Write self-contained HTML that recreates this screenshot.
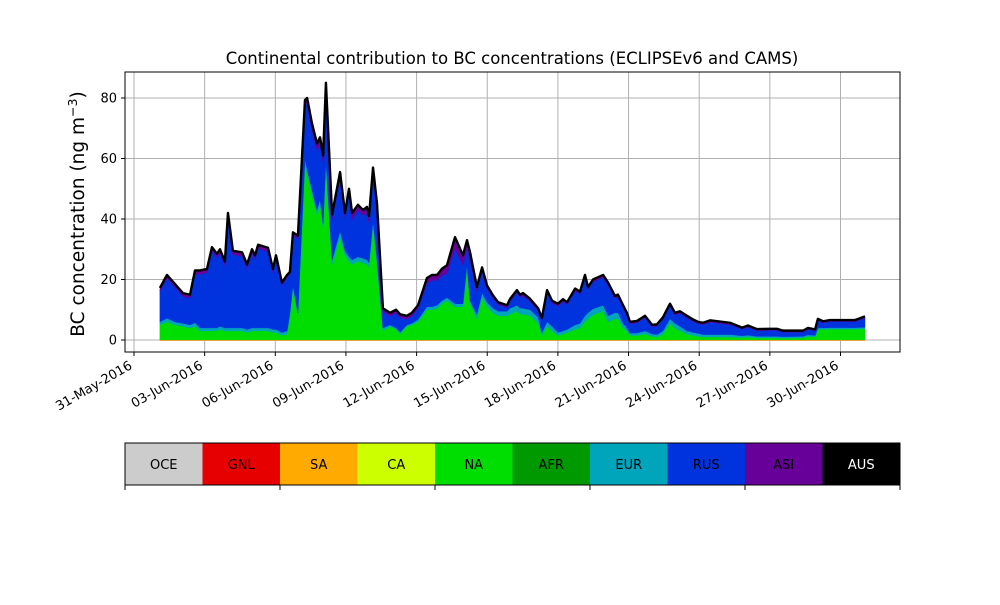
<!DOCTYPE html>
<html><head><meta charset="utf-8"><style>
body{margin:0;background:#fff;}
svg text{font-family:"DejaVu Sans","Liberation Sans",sans-serif;}
</style></head><body>
<svg id="chart" width="1000" height="600" viewBox="0 0 1000 600" xmlns="http://www.w3.org/2000/svg"></svg>
<script>
const days=[1.10,1.40,1.74,2.08,2.38,2.59,2.80,3.10,3.31,3.52,
3.65,3.86,3.99,4.20,4.59,4.80,5.01,5.14,5.27,5.69,
5.90,6.03,6.28,6.50,6.62,6.75,6.96,7.26,7.35,7.56,
7.77,7.90,8.03,8.15,8.41,8.75,8.96,9.13,9.26,9.51,
9.72,9.89,9.98,10.15,10.32,10.57,10.87,11.13,11.30,11.59,
11.80,12.06,12.44,12.65,12.87,13.08,13.29,13.63,13.97,14.14,
14.27,14.56,14.78,14.99,15.24,15.46,15.84,15.97,16.26,16.39,
16.52,16.82,17.16,17.32,17.54,17.75,18.00,18.22,18.39,18.73,
18.94,19.15,19.28,19.49,19.92,20.13,20.42,20.55,20.76,20.93,
21.06,21.36,21.70,22.00,22.21,22.46,22.76,22.97,23.18,23.48,
23.74,23.95,24.16,24.46,24.76,25.31,25.82,26.07,26.45,27.01,
27.30,27.56,28.41,28.62,28.92,29.04,29.26,29.55,30.11,30.62,31.04];
const total=[17.2,21.5,18.5,15.5,15,23,23,23.5,30.7,28.5,
30,26,42,29.5,29,25,30,28,31.5,30.5,
23.5,28,19,21.5,22.5,35.6,34.5,79.3,80,71.5,
65,67,61,85,41.5,55.5,42,50,42,44.7,
43,44,41,57,45,10.5,9,10,8.5,8,
9,11.5,20.5,21.5,21.5,23.6,24.7,34,28,33,
29,17.5,24,18,14.8,12.5,11.5,13.6,16.5,15,
15.5,13.6,10.5,7.3,16.5,13,12,13.5,12.5,17,
16,21.5,17.5,20,21.5,19,14.6,15,11.6,9,
6,6.3,8,5,5.2,7.5,12,9,9.5,8,
6.8,6,5.7,6.5,6.2,5.7,4.1,4.8,3.6,3.7,
3.7,3.1,3.1,4,3.5,7,6.2,6.6,6.6,6.6,7.8];
const na=[5,6,5,4.5,4,4.5,3,3,3,3,
3.5,3,3,3,3,2.5,3,3,3,3,
2.5,2.5,1.5,2,8,17,8,58.5,55,48,
41.5,45,37,58,25,34,28,26,25,26,
25.5,25,24,38,25,3,4.5,3.5,2,4.5,
5,6,10,10,10.5,12,13,11,11,24,
12,7,14,11,9,8,8,8.5,9.5,8.5,
8.5,8,5.5,1.5,4.5,3,1.5,2,2.5,3.5,
4,6,7,8.3,9.5,6,7,7,4,3,
1.5,1.5,2,1.2,1,2,5.5,4,3,2,
1.5,1.2,1,1,1,1,0.8,1,0.7,0.7,
0.7,0.6,0.7,1.2,1,3.5,3.5,3.6,3.6,3.6,3.7];
const eur=[1,1.2,1,1,1,1.2,1,1,1,1,
1,1,1,1,1,1,1,1,1,1,
1,1,1,1,1,1,1,1.5,1.5,1.5,
1.5,1.5,1.5,1.5,1.5,2,1.5,1.5,1.5,1.5,
1.5,1.5,1.5,1.5,1.5,1,0.5,0.5,0.5,0.5,
0.5,0.8,1,1,1,1,1,1,1,1,
1,1.5,1.5,1.5,1.5,1.5,1.5,2,2,2,
2,2,2,1,1.5,1.5,1,1,1,1.5,
1.5,2,2,2,2,2,2,2,1.5,1,
0.8,0.8,1,0.8,0.8,1,1.5,1.5,1.5,1,
1,1,0.8,0.8,0.8,0.8,0.6,0.6,0.5,0.5,
0.5,0.5,0.5,0.5,0.5,0.5,0.5,0.5,0.5,0.5,0.5];
const asi=[0.8,0.8,0.8,0.8,0.8,1,1,1,1,1,
1,1,1,1,1,1,1,1,1,1,
1,0.8,0.6,0.6,0.6,0.8,0.8,1.5,1.5,2,
2,2,2,1.5,1.5,2,1.5,1.5,2,1.5,
1.5,2,2,1.5,1.5,0.8,0.8,0.8,0.8,0.8,
0.8,0.8,1.5,1.5,1.5,2,2.5,3.5,3,2,
2.5,1,1,0.8,0.6,0.5,0.5,0.5,0.6,0.6,
0.6,0.6,0.5,0.4,0.5,0.5,0.5,0.5,0.5,0.5,
0.5,0.5,0.5,0.5,0.5,0.5,0.5,0.5,0.4,0.4,
0.3,0.3,0.3,0.3,0.3,0.3,0.4,0.4,0.4,0.4,
0.3,0.3,0.3,0.3,0.3,0.3,0.2,0.2,0.2,0.2,
0.2,0.2,0.2,0.2,0.2,0.2,0.2,0.2,0.2,0.2,0.2];
const yTicks=[0,20,40,60,80];
const xTickDays=[0,3,6,9,12,15,18,21,24,27,30];
const xTickLabels=["31-May-2016","03-Jun-2016","06-Jun-2016","09-Jun-2016","12-Jun-2016","15-Jun-2016","18-Jun-2016","21-Jun-2016","24-Jun-2016","27-Jun-2016","30-Jun-2016"];
const regions=["OCE","GNL","SA","CA","NA","AFR","EUR","RUS","ASI","AUS"];
const regionColors=["#cccccc","#e60000","#ffaa00","#ccff00","#00dd00","#009900","#00a5bb","#0033dd","#660099","#000000"];

const NS="http://www.w3.org/2000/svg";
const svg=document.getElementById('chart');
const L=125,R=900,T=72,B=352;
const xS=d=>134+d*23.55;
const yS=v=>340-v*3.025;
function mk(tag,attrs,parent){const e=document.createElementNS(NS,tag);for(const k in attrs)e.setAttribute(k,attrs[k]);(parent||svg).appendChild(e);return e;}

yTicks.forEach(v=>{const g=mk('line',{x1:L,x2:R,y1:yS(v),y2:yS(v),stroke:'#b0b0b0','stroke-width':1});

});
xTickDays.forEach(d=>{const g=mk('line',{x1:xS(d),x2:xS(d),y1:T,y2:B,stroke:'#b0b0b0','stroke-width':1});

});

const rus=total.map((t,i)=>Math.max(0,t-na[i]-eur[i]-asi[i]-0.3));
const layers=[["na",na,"#00dd00"],["eur",eur,"#00a5bb"],["rus",rus,"#0033dd"],["asi",asi,"#660099"]];
let base=days.map(()=>0);
layers.forEach(([name,vals,col])=>{
  const top=base.map((b,i)=>b+vals[i]);
  let d='M'+days.map((t,i)=>xS(t)+','+yS(top[i])).join('L');
  for(let i=days.length-1;i>=0;i--)d+='L'+xS(days[i])+','+yS(base[i]);
  const p=mk('path',{d:d+'Z',fill:col,stroke:col,'stroke-width':0.5});
  
  
  base=top;
});
const sa=mk('line',{x1:xS(days[0]),x2:xS(days[days.length-1]),y1:yS(0)+0.5,y2:yS(0)+0.5,stroke:'#e8a040','stroke-width':1});


const aus=mk('polyline',{points:days.map((t,i)=>xS(t)+','+yS(total[i])).join(' '),fill:'none',stroke:'#000','stroke-width':2.4,'stroke-linejoin':'round'});



const fr=mk('rect',{x:L,y:T,width:R-L,height:B-T,fill:'none',stroke:'#000','stroke-width':1});



yTicks.forEach(v=>{
  const t=mk('line',{x1:L-4,x2:L,y1:yS(v),y2:yS(v),stroke:'#000'});
  
  
  const tx=mk('text',{x:L-8,y:yS(v)+4.5,'text-anchor':'end','font-size':13});
  tx.textContent=v;
  
  
});
xTickDays.forEach((d,i)=>{
  const x=xS(d);
  const t=mk('line',{x1:x,x2:x,y1:B,y2:B+4,stroke:'#000'});
  
  
  const ax=x-1,ay=B+16;
  const tx=mk('text',{x:ax,y:ay,'text-anchor':'end','font-size':13,transform:`rotate(-30 ${ax} ${ay})`});
  tx.textContent=xTickLabels[i];
  
  
});
const title=mk('text',{x:512,y:64,'text-anchor':'middle','font-size':16.5});
title.textContent='Continental contribution to BC concentrations (ECLIPSEv6 and CAMS)';


const yl=mk('text',{x:0,y:0,'text-anchor':'middle','font-size':18.5,transform:'translate(84 214) rotate(-90)'});
yl.innerHTML='BC concentration (ng m<tspan dy="-7" font-size="12.5">−3</tspan><tspan dy="7">)</tspan>';



const cw=(R-L)/regions.length;
regions.forEach((r,i)=>{
  const rc=mk('rect',{x:L+i*cw,y:443,width:cw,height:42,fill:regionColors[i]});
  
  
  const tx=mk('text',{x:L+i*cw+cw/2,y:469,'text-anchor':'middle','font-size':13,fill:r==='AUS'?'#fff':'#000'});
  tx.textContent=r;
  
  
});
const lf=mk('rect',{x:L,y:443,width:R-L,height:42,fill:'none',stroke:'#000','stroke-width':1});


for(let k=0;k<=regions.length;k+=2){
  const t=mk('line',{x1:L+k*cw,x2:L+k*cw,y1:485,y2:490,stroke:'#000'});
  
  
}
</script>
</body></html>
